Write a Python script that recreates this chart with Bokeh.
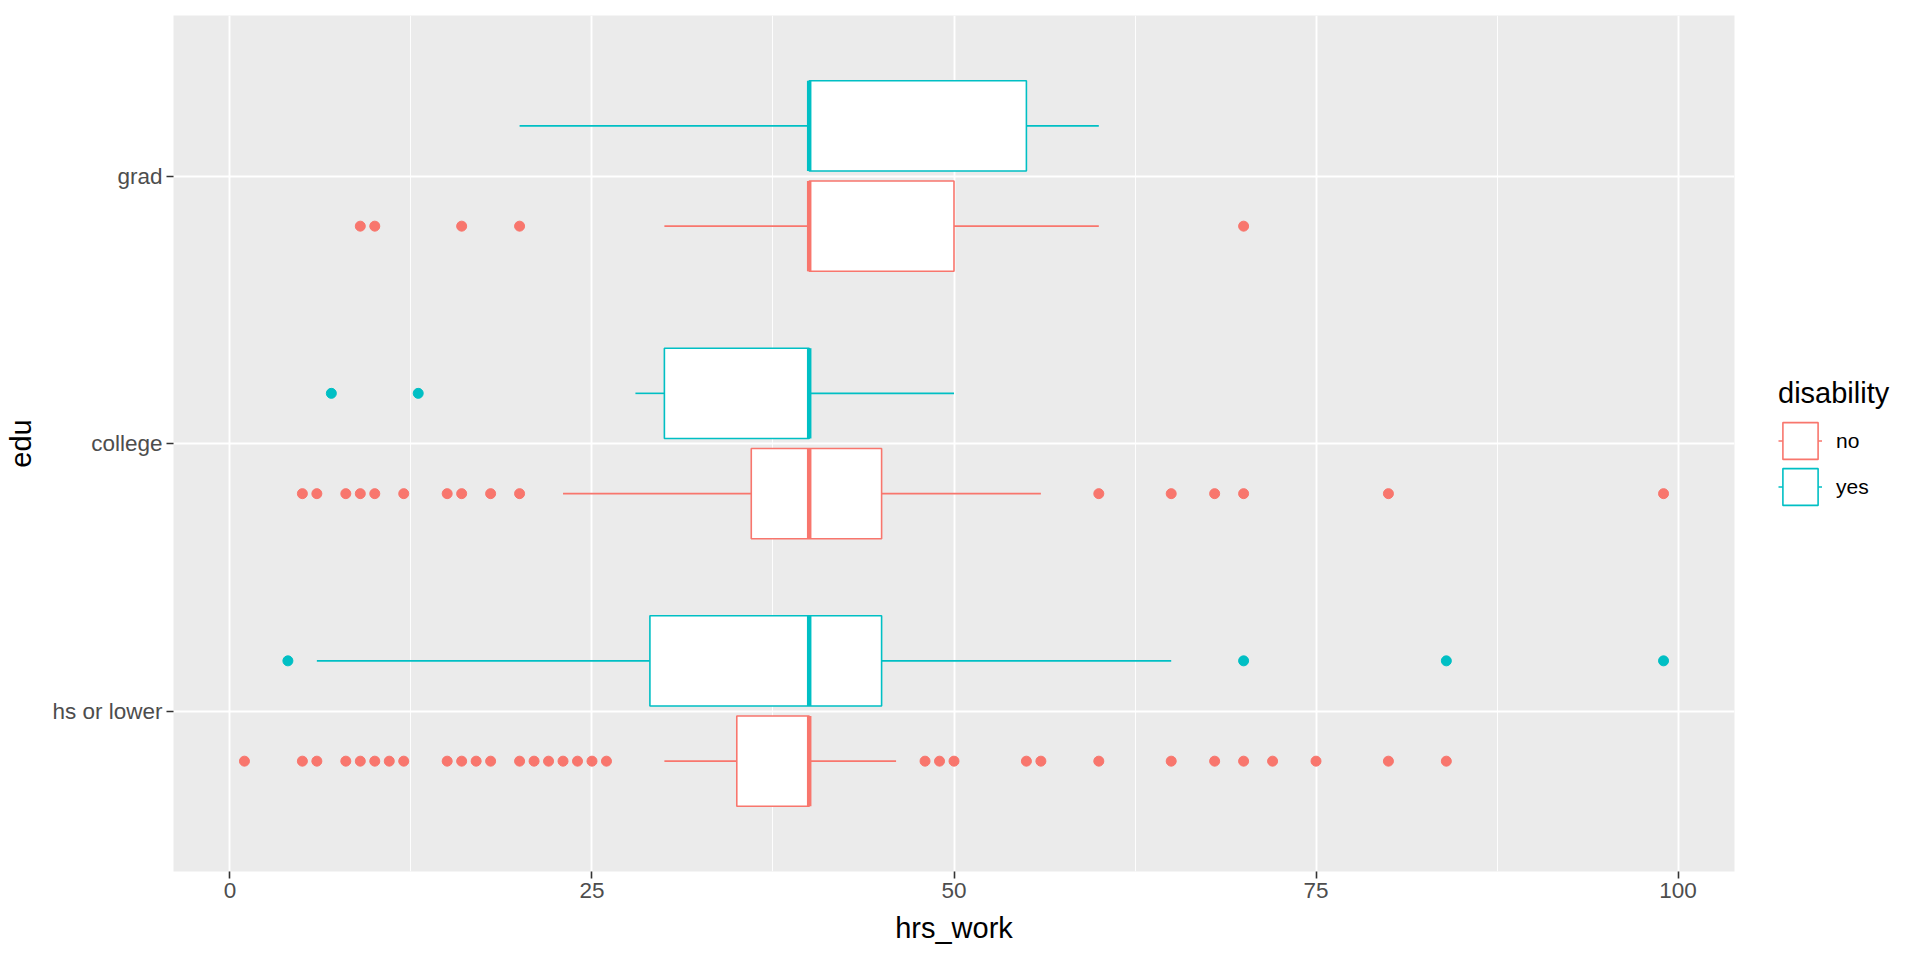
from bokeh.plotting import figure
from bokeh.models import Range1d, FixedTicker, Legend, LegendItem, ColumnDataSource
from bokeh.embed import file_html
from bokeh.resources import INLINE

# ---- data ----
edu_levels = ["hs or lower", "college", "grad"]
groups = ["no", "yes"]
group_colors = ["#F8766D", "#00BFC4"]

box_edu = ["hs or lower", "hs or lower", "college", "college", "grad", "grad"]
box_group = ["no", "yes", "no", "yes", "no", "yes"]
whisk_lo = [30, 6, 23, 28, 30, 20]
q1 = [35, 29, 36, 30, 40, 40]
median = [40, 40, 40, 40, 40, 40]
q3 = [40, 45, 45, 40, 50, 55]
whisk_hi = [46, 65, 56, 50, 60, 60]

out_hs_no = [1, 5, 6, 8, 9, 10, 11, 12, 15, 16, 17, 18, 20, 21, 22, 23, 24, 25, 26,
             48, 49, 50, 55, 56, 60, 65, 68, 70, 72, 75, 80, 84]
out_hs_yes = [4, 70, 84, 99]
out_college_no = [5, 6, 8, 9, 10, 12, 15, 16, 18, 20, 60, 65, 68, 70, 80, 99]
out_college_yes = [7, 13]
out_grad_no = [9, 10, 16, 20, 70]
out_grad_yes = []

outliers = {
    ("hs or lower", "no"): out_hs_no,
    ("hs or lower", "yes"): out_hs_yes,
    ("college", "no"): out_college_no,
    ("college", "yes"): out_college_yes,
    ("grad", "no"): out_grad_no,
    ("grad", "yes"): out_grad_yes,
}

x_ticks = [0, 25, 50, 75, 100]
x_minor = [12.5, 37.5, 62.5, 87.5]

# ---- layout constants ----
dodge = 0.1875
box_h = 0.3375
FONT = "Liberation Sans"

p = figure(
    output_backend="svg", toolbar_location=None,
    frame_width=1561, frame_height=856,
    min_border_left=173, min_border_top=15, min_border_bottom=78, min_border_right=10,
    x_range=Range1d(-3.9, 103.9), y_range=Range1d(0.4, 3.6),
    background_fill_color="#EBEBEB", border_fill_color="white",
)
p.outline_line_color = None

legend_items = []
for gi, g in enumerate(groups):
    col = group_colors[gi]
    idx = [i for i in range(len(box_group)) if box_group[i] == g]
    off = -dodge if g == "no" else dodge
    ys = [edu_levels.index(box_edu[i]) + 1 + off for i in idx]
    # whiskers
    wsrc = ColumnDataSource(dict(
        x0=[whisk_lo[i] for i in idx] + [q3[i] for i in idx],
        x1=[q1[i] for i in idx] + [whisk_hi[i] for i in idx],
        y=ys + ys,
    ))
    wr = p.segment(x0="x0", y0="y", x1="x1", y1="y", source=wsrc,
                   line_color=col, line_width=1.6)
    # boxes
    bsrc = ColumnDataSource(dict(
        y=ys, left=[q1[i] for i in idx], right=[q3[i] for i in idx],
        med=[median[i] for i in idx],
        ylo=[y - box_h / 2 for y in ys], yhi=[y + box_h / 2 for y in ys],
    ))
    br = p.hbar(y="y", left="left", right="right", height=box_h, source=bsrc,
                fill_color="white", line_color=col, line_width=1.6)
    p.segment(x0="med", y0="ylo", x1="med", y1="yhi", source=bsrc,
              line_color=col, line_width=4.5)
    # outliers
    ox, oy = [], []
    for e in edu_levels:
        vals = outliers[(e, g)]
        ox += vals
        oy += [edu_levels.index(e) + 1 + off] * len(vals)
    p.scatter(x=ox, y=oy, size=10, fill_color=col, line_color=col, marker="circle")
    legend_items.append(LegendItem(label=g, renderers=[wr, br]))

# ---- axes ----
xt = FixedTicker(ticks=x_ticks, minor_ticks=x_minor)
p.xaxis.ticker = xt
p.xgrid.ticker = xt
p.xgrid.grid_line_color = "white"
p.xgrid.grid_line_width = 1.9
p.xgrid.minor_grid_line_color = "white"
p.xgrid.minor_grid_line_width = 0.9

yt = FixedTicker(ticks=[1, 2, 3])
p.yaxis.ticker = yt
p.ygrid.ticker = yt
p.ygrid.grid_line_color = "white"
p.ygrid.grid_line_width = 1.9
p.yaxis.major_label_overrides = {i + 1: e for i, e in enumerate(edu_levels)}

for ax in (p.xaxis[0], p.yaxis[0]):
    ax.axis_line_color = None
    ax.major_tick_line_color = "#333333"
    ax.major_tick_line_width = 1.6
    ax.major_tick_out = 7
    ax.major_tick_in = 0
    ax.minor_tick_line_color = None
    ax.major_label_text_font = FONT
    ax.major_label_text_font_size = "22.5px"
    ax.major_label_text_color = "#4D4D4D"
    ax.axis_label_text_font = FONT
    ax.axis_label_text_font_size = "29px"
    ax.axis_label_text_font_style = "normal"
    ax.axis_label_text_color = "black"
    ax.major_label_standoff = 4

p.xaxis.axis_label = "hrs_work"
p.yaxis.axis_label = "edu"
p.xaxis.axis_label_standoff = 11
p.yaxis.axis_label_standoff = 12

legend = Legend(
    items=legend_items, title="disability", location="center_left",
    title_text_font=FONT, title_text_font_size="29px", title_text_font_style="normal",
    title_text_color="black", title_standoff=8,
    label_text_font=FONT, label_text_font_size="21px", label_standoff=14,
    label_text_color="black",
    glyph_width=44, glyph_height=46, spacing=0,
    padding=10, margin=44,
    border_line_color=None, background_fill_color="white", background_fill_alpha=1.0,
)
p.add_layout(legend, "right")

open("out.html", "w").write(file_html(p, INLINE))
